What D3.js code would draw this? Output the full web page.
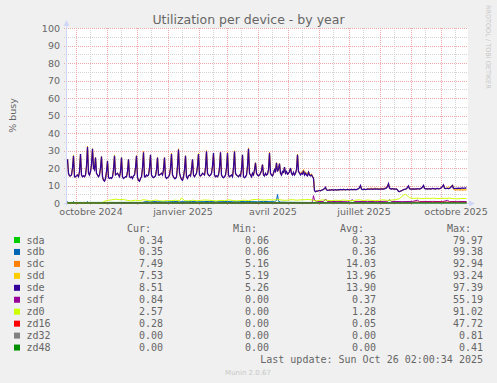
<!DOCTYPE html>
<html>
<head>
<meta charset="utf-8">
<script src="https://cdn.jsdelivr.net/npm/d3@7"></script>
<style>
body { margin: 0; background: #f0f0f0; }
svg { display: block; }
</style>
</head>
<body>
<div id="chart"></div>
<script>
// one value per day, first day starts at startDay
var startDay = Date.UTC(2024, 8, 22, 12);
var days = 400;

var sde = [
  25,17,15.5,15.5,16,20,27, 15,15,15.5,16,15,18,28, 16,15,15.5,15,16,21,32, 17,16,18,22,31,20,19,
  26,17,16,15,16,20,26.5, 15,13,12.5,14,18,24,14.5, 14,14.5,14,15,19,27,16, 16.5,17,16,15,18,26,15,
  14,14.5,15,15,18,25,15, 14.5,15,14,15.5,16,20,27, 14.5,13,12.5,14,15,20,29, 15,15,16,15.5,16,20,27.5,
  16,15,14.5,15,15.5,19,26, 16,16,16.5,17,16,19,26, 15,14,14.5,15,16,20,28, 16,15,14,14,15,21,30.5,
  17,15,13.5,13,15,19,27, 15,14,15.5,16,15.5,19,25, 16,15,16,17,21,28,16, 15.5,16,17,16.5,16,20,29.5,
  17,16,15.5,16,17,21,28.5, 16,15,15.5,15,16,20,29, 16,15,14.5,15,16,20,28.5, 16,15,15.5,16,15,20,29.5,
  17,16,15.5,15,16,15.5,19, 27.5,15,14.5,15,16,21,31, 17,16,15,17,16,19,23, 17,16,15.5,16,17,18.5,22,
  16,15.5,17,16,16.5,19,28.5, 17,16,15.5,17,19,18,23, 18,19.5,22.5,17,16,18,17.5, 20.5,17,18,16.5,17,18,20,
  17,16,17.5,16,17,19,27.5, 18,17,16,17,16.5,18.5,16, 17,16,15.5,17.5,16,15.5,16, 15,14,7,6.5,6.8,6.8,7,
  7.2,7,7.3,7.5,7.8,8.2,9, 7.5,7.2,7.3,7.5,7.4,7.6,7.5, 7.3,7.5,7.6,7.4,7.5,7.6,7.5, 7.7,7.6,7.5,7.8,7.6,7.5,7.7,
  7.8,7.6,7.5,7.7,7.8,7.6,7.7, 7.8,7.6,7.7,7.9,8.2,8.8,10, 8,7.7,7.8,7.9,7.7,7.8,8, 7.9,7.8,7.9,8,7.8,7.9,8,
  8.1,7.9,8,7.8,7.9,8.1,8, 7.9,8,8.1,8.3,8.6,9.5,11, 8.5,8.1,8,8.2,8,8.1,7.9, 8,7.5,6.6,6.5,6.8,7,7.3,
  7.6,7.8,7.9,8.2,8.9,9.8,8.2, 8,7.9,8.1,8,7.9,8.1,8, 8.2,8.1,8,8.2,8.5,9.2,10, 8.3,8.1,8.2,8,8.1,8.2,8,
  8.1,8.3,8.2,8.1,8,8.2,8.3, 8.1,8.2,8.4,8.8,9.5,10.3,8.5, 8.2,8.3,8.4,8.2,8.3,8.8,9.4, 10,8.4,8.2,8.3,8.4,8.3,8.5,
  8.4,8.3,8.5,8.6,8.4,8.5,8.6, 8.5
];

var sdc = [
  25,17,15.5,15.5,16,20,27, 15,15,15.5,16,15,18,28, 16,15,15.5,15,16,21,32.5, 17,16,18,22,31,20,19,
  26,17,16,15,16,20,26.5, 15,13,12.5,14,18,24,14.5, 14,14.5,14,15,19,27,16, 16.5,17,16,15,18,26,15,
  14,14.5,15,15,18,25,15, 14.5,15,14,15.5,16,20,27, 14.5,13,12.5,14,15,20,29.5, 15,15,16,15.5,16,20,27.5,
  16,15,14.5,15,15.5,19,26, 16,16,16.5,17,16,19,26, 15,14,14.5,15,16,20,28.5, 16,15,14,14,15,21,31,
  17,15,13.5,13,15,19,27, 15,14,15.5,16,15.5,19,25, 16,15,16,17,21,28,16, 15.5,16,17,16.5,16,20,30,
  17,16,15.5,16,17,21,28.5, 16,15,15.5,15,16,20,29, 16,15,14.5,15,16,20,29, 16,15,15.5,16,15,20,29.5,
  17,16,15.5,15,16,15.5,19, 27.5,15,14.5,15,16,21,31.5, 17,16,15,17,16,19,23, 17,16,15.5,16,17,18.5,22,
  16,15.5,17,16,16.5,19,29, 17,16,15.5,17,19,18,23, 18,19.5,22.5,17,16,18,17.5, 20.5,17,18,16.5,17,18,20,
  17,16,17.5,16,17,19,28, 18.5,17.5,16.8,17.8,17.2,19,16.8, 17.8,16.8,16.2,18,16.8,16.2,16.6, 15.5,14,7,6.5,6.8,6.8,7,
  7.2,7,7.3,7.5,7.8,8.2,9, 7.5,7.2,7.3,7.5,7.4,7.6,7.5, 7.3,7.5,7.6,7.4,7.5,7.6,7.5, 7.7,7.6,7.5,7.8,7.6,7.5,7.7,
  7.8,7.6,7.5,7.7,7.8,7.6,7.7, 7.8,7.6,7.7,7.9,8.2,8.8,10, 8,7.7,7.8,7.9,7.7,7.8,8, 8.3,8.2,8.4,8.5,8.2,8.3,8.4,
  8.5,8.3,8.4,8.2,8.3,8.5,8.4, 8.3,8.4,8.5,8.7,9,9.8,11, 8.5,8.1,8,8.2,8,8.1,7.9, 8,7.5,6.6,6.5,6.8,7,7.3,
  7.6,7.8,7.9,8.2,8.9,9.8,8.2, 8,7.9,8.1,8,7.9,8.1,8, 8.2,8.1,8,8.2,8.5,9.2,10, 8.3,8.1,8.2,8,8.1,8.2,8,
  8.1,8.3,8.2,8.1,8,8.2,8.3, 8.1,8.2,8.4,8.8,9.5,10.3,8.5, 8.2,8.3,8.4,8.2,8.3,8.8,9.4, 10,8,7.4,7.3,7.5,7.4,7.5,
  7.3,7.4,7.5,7.3,7.4,7.5,7.4, 7.49
];

var sdd = [
  25,17,15.5,15.5,16,20,27.5, 15,15,15.5,16,15,18,28, 16,15,15.5,15,16,21,32, 17,16,18,22,31,20,19,
  26,17,16,15,16,20,26.5, 15,13,12.5,14,18,24,14.5, 14,14.5,14,15,19,27.5,16, 16.5,17,16,15,18,26,15,
  14,14.5,15,15,18,25,15, 14.5,15,14,15.5,16,20,27, 14.5,13,12.5,14,15,20,29, 15,15,16,15.5,16,20,27.5,
  16,15,14.5,15,15.5,19,26, 16,16,16.5,17,16,19,26, 15,14,14.5,15,16,20,28, 16,15,14,14,15,21,30.5,
  17,15,13.5,13,15,19,27, 15,14,15.5,16,15.5,19,25, 16,15,16,17,21,28.5,16, 15.5,16,17,16.5,16,20,29.5,
  17,16,15.5,16,17,21,28.5, 16,15,15.5,15,16,20,29, 16,15,14.5,15,16,20,28.5, 16,15,15.5,16,15,20,30,
  17,16,15.5,15,16,15.5,19, 27.5,15,14.5,15,16,21,31, 17,16,15,17,16,19,23, 17,16,15.5,16,17,18.5,22,
  16,15.5,17,16,16.5,19,28.5, 17,16,15.5,17,19,18,23, 18,19.5,22.5,17,16,18,17.5, 20.5,17,18,16.5,17,18,20,
  17,16,17.5,16,17,19,27.5, 18.3,17.3,16.5,17.4,17,19,16.5, 17.4,16.5,16,17.8,16.5,16,16.3, 15.2,14,7,6.5,6.8,6.8,7,
  7.2,7,7.3,7.5,7.8,8.2,9, 7.5,7.2,7.3,7.5,7.4,7.6,7.5, 7.3,7.5,7.6,7.4,7.5,7.6,7.5, 7.7,7.6,7.5,7.8,7.6,7.5,7.7,
  7.8,7.6,7.5,7.7,7.8,7.6,7.7, 7.8,7.6,7.7,7.9,8.2,8.8,10, 8,7.7,7.8,7.9,7.7,7.8,8, 7.9,7.8,7.9,8,7.8,7.9,8,
  8.1,7.9,8,7.8,7.9,8.1,8, 7.9,8,8.1,8.3,8.6,9.5,11, 8.5,8.1,8,8.2,8,8.1,7.9, 8,7.5,6.6,6.5,6.8,7,7.3,
  7.6,7.8,7.9,8.2,8.9,9.8,8.2, 8,7.9,8.1,8,7.9,8.1,8, 8.2,8.1,8,8.2,8.5,9.2,10, 8.3,8.1,8.2,8,8.1,8.2,8,
  8.1,8.3,8.2,8.1,8,8.2,8.3, 8.1,8.2,8.4,8.8,9.5,10.3,8.5, 8.2,8.3,9,9.1,9,9.4,9.8, 10.3,9,7.8,7.7,7.8,7.9,7.8,
  7.7,7.8,7.9,7.7,7.8,7.9,7.7, 7.53
];

// the small ones, as [day, value]
var sda = [[0,0.3],[60,0.35],[120,0.3],[200,0.32],[300,0.3],[399,0.34]];
var sdb = [[0,0.9],[1,0.3],[5,0.3],[6,0.8],[7,0.3],[19,0.3],[20,0.8],[21,0.3],[75,0.3],[78,0.8],[82,0.6],
  [86,0.9],[90,0.7],[94,0.8],[100,0.6],[106,0.9],[112,0.7],[118,0.8],[124,0.9],[130,0.7],[136,0.8],[142,0.9],
  [148,0.7],[154,0.8],[160,0.9],[166,0.7],[172,0.8],[178,0.9],[184,0.8],[190,0.7],[196,0.9],[202,0.8],
  [207,0.7],[209,1.5],[210,4.8],[211,1],[213,0.5],[220,0.4],[240,0.3],[399,0.35]];
var sdf = [[0,0],[244,0],[245,1],[246,4.2],[247,1.5],[250,0.8],[256,0.9],[258,2.3],[260,0.8],[270,0.9],
  [280,0.7],[285,1.8],[287,0.8],[300,0.9],[310,0.8],[320,1],[322,1.8],[324,0.9],[335,0.8],[345,0.9],
  [350,1.6],[352,0.8],[365,0.9],[375,0.8],[380,1.5],[382,0.8],[390,0.9],[399,0.84]];
var zd0 = [[0,0],[35,0],[36,0.8],[40,1.5],[44,1.8],[48,2.2],[52,1.9],[56,2],[60,1.5],[64,1.2],[68,1.6],
  [72,1.3],[76,1.9],[80,1.5],[84,1.2],[88,1.7],[92,1.3],[96,1.1],[100,1.5],[104,1.3],[108,1.6],[112,1.2],
  [114,2.9],[117,1.4],[121,1.2],[125,1.6],[129,1.3],[133,1.5],[137,1.7],[141,1.6],[145,1.4],[149,1.2],
  [153,1.5],[157,1.3],[161,1.8],[165,1.5],[169,1.2],[173,1.4],[177,1.6],[181,1.3],[185,1.9],[189,2],
  [193,1.8],[197,1.6],[201,1.9],[205,1.7],[209,1.9],[213,1.8],[217,1.5],[221,1.7],[225,1.9],[229,1.6],
  [233,1.8],[237,1.9],[241,2],[245,1.7],[248,1.2],[252,1.5],[256,1.8],[260,1.5],[264,1.3],[268,1.6],
  [272,1.4],[276,1.7],[280,1.5],[284,1.3],[288,1.6],[292,1.8],[296,1.4],[300,1.7],[304,1.5],[308,1.3],
  [312,1.6],[316,1.8],[320,1.5],[324,1.7],[328,1.9],[332,2.5],[336,4.5],[338,5],[340,4],[342,3],
  [346,2.6],[350,2.8],[354,2.5],[358,2.7],[362,2.6],[366,2.8],[370,2.5],[374,2.7],[378,2.6],[382,2.8],
  [386,2.5],[390,2.4],[394,2.6],[399,2.57]];
var zd16 = [[0,0],[344,0],[346,0.5],[360,0.4],[380,0.5],[399,0.28]];
var zd32 = [[0,0],[399,0]];
var zd48 = [[0,0],[399,0]];

var names  = ["sda", "sdb", "sdc", "sdd", "sde", "sdf", "zd0", "zd16", "zd32", "zd48"];
var colors = ["#00CC00", "#0066B3", "#FF8000", "#FFCC00", "#330099", "#990099", "#CCFF00", "#FF0000", "#808080", "#008F00"];
var curV = [0.34, 0.35, 7.49, 7.53, 8.51, 0.84, 2.57, 0.28, 0.00, 0.00];
var minV = [0.06, 0.06, 5.16, 5.19, 5.26, 0.00, 0.00, 0.00, 0.00, 0.00];
var avgV = [0.33, 0.36, 14.03, 13.96, 13.90, 0.37, 1.28, 0.05, 0.00, 0.00];
var maxV = [79.97, 99.38, 92.94, 93.24, 97.39, 55.19, 91.02, 47.72, 0.81, 0.41];

var yTicks = [0, 10, 20, 30, 40, 50, 60, 70, 80, 90, 100];
var frMonths = ["janvier", "février", "mars", "avril", "mai", "juin", "juillet", "août", "septembre", "octobre", "novembre", "décembre"];
var labelMonths = [[2024, 9], [2025, 0], [2025, 3], [2025, 6], [2025, 9]];

var W = 497, H = 383;
var pl = 67, pr = 467, pt = 28, pb = 203;
var font = "'DejaVu Sans', sans-serif", mono = "'DejaVu Sans Mono', monospace";

var svg = d3.select("#chart").append("svg").attr("width", W).attr("height", H);
svg.append("rect").attr("width", W).attr("height", H).attr("fill", "#f0f0f0");
svg.append("rect").attr("x", pl).attr("y", pt).attr("width", pr - pl + 1).attr("height", pb - pt).attr("fill", "#fff");

var x = d3.scaleUtc().domain([new Date(startDay), new Date(startDay + days * 864e5)]).range([pl, pr]);
var y = d3.scaleLinear().domain([0, 100]).range([pb, pt]);
function dayDate(i) { return new Date(startDay + (i + 0.5) * 864e5); }
function px(v) { return Math.round(v) + 0.5; }

// grid
var grid = svg.append("g").attr("stroke-dasharray", "1,1").attr("stroke-width", 1);
d3.range(5, 100, 10).forEach(function(v) {
  grid.append("line").attr("x1", 64).attr("x2", pr + 1).attr("y1", px(y(v))).attr("y2", px(y(v))).attr("stroke", "#d4d4d4");
});
var months = d3.utcMonth.range(x.domain()[0], x.domain()[1]);
months.forEach(function(m) {
  var d = d3.utcDay.offset(m, 14);
  if (d < x.domain()[1]) grid.append("line").attr("x1", px(x(d))).attr("x2", px(x(d))).attr("y1", pt).attr("y2", pb + 3).attr("stroke", "#d4d4d4");
});
yTicks.slice(1).forEach(function(v) {
  grid.append("line").attr("x1", 64).attr("x2", pr + 1).attr("y1", px(y(v))).attr("y2", px(y(v))).attr("stroke", "#eaa8a8");
});
months.forEach(function(m) {
  grid.append("line").attr("x1", px(x(m))).attr("x2", px(x(m))).attr("y1", pt).attr("y2", pb + 3).attr("stroke", "#eaa8a8");
});

// axes lines with arrows
var axisCol = "#cfd6f8";
svg.append("line").attr("x1", 66.5).attr("x2", 66.5).attr("y1", 25).attr("y2", pb + 3).attr("stroke", axisCol);
svg.append("path").attr("d", "M63.5,26 L66.5,20 L69.5,26 Z").attr("fill", axisCol);
svg.append("line").attr("x1", 64).attr("x2", 470).attr("y1", 203.5).attr("y2", 203.5).attr("stroke", axisCol);
svg.append("path").attr("d", "M469,200.5 L475,203.5 L469,206.5 Z").attr("fill", axisCol);

// series
var daily = { sdc: sdc, sdd: sdd, sde: sde };
var sparse = { sda: sda, sdb: sdb, sdf: sdf, zd0: zd0, zd16: zd16, zd32: zd32, zd48: zd48 };
var lineDaily = d3.line().x(function(d, i) { return x(dayDate(i)); }).y(function(d) { return y(d); });
var lineSparse = d3.line().x(function(d) { return x(dayDate(d[0])); }).y(function(d) { return y(d[1]); });
names.forEach(function(n, k) {
  var p = svg.append("path").attr("fill", "none").attr("stroke", colors[k])
    .attr("stroke-width", n == "sde" ? 1.3 : 1);
  if (daily[n]) p.attr("d", lineDaily(daily[n]));
  else p.attr("d", lineSparse(sparse[n]));
});

// tick labels
var yAxis = svg.append("g").attr("transform", "translate(" + pl + ",0)")
  .call(d3.axisLeft(y).tickValues(yTicks).tickSize(0).tickPadding(7));
yAxis.select(".domain").remove();
yAxis.selectAll("text").attr("font-family", font).attr("font-size", 9.5).attr("fill", "#666").attr("dy", "0.34em");

var labelDates = labelMonths.map(function(d) { return new Date(Date.UTC(d[0], d[1], 16)); });
var xAxis = svg.append("g").attr("transform", "translate(0," + pb + ")")
  .call(d3.axisBottom(x).tickValues(labelDates).tickSize(0)
    .tickFormat(function(d) { return frMonths[d.getUTCMonth()] + " " + d.getUTCFullYear(); }));
xAxis.select(".domain").remove();
xAxis.selectAll("text").attr("font-family", font).attr("font-size", 9.5).attr("fill", "#666").attr("y", 11.5).attr("dy", 0);

// titles
svg.append("text").attr("x", 248.5).attr("y", 24).attr("text-anchor", "middle")
  .attr("font-family", font).attr("font-size", 12.5).attr("fill", "#666").text("Utilization per device - by year");
svg.append("text").attr("transform", "translate(16," + ((pt + pb) / 2) + ") rotate(-90)").attr("text-anchor", "middle")
  .attr("font-family", font).attr("font-size", 9.5).attr("fill", "#666").text("% busy");
svg.append("text").attr("transform", "translate(485.5,5) rotate(90)").attr("text-anchor", "start")
  .attr("font-family", font).attr("font-size", 6.5).attr("fill", "#c8c8c8").text("RRDTOOL / TOBI OETIKER");

// legend
var lg = svg.append("g").attr("font-family", mono).attr("font-size", 10).attr("fill", "#666");
var colEnds = [163, 269, 376, 483];
["Cur:", "Min:", "Avg:", "Max:"].forEach(function(h, j) {
  lg.append("text").attr("x", colEnds[j] - 12).attr("y", 231.5).attr("text-anchor", "end").text(h);
});
names.forEach(function(n, k) {
  var by = 243.5 + k * 11.95;
  lg.append("rect").attr("x", 14).attr("y", by - 6.5).attr("width", 6).attr("height", 6).attr("fill", colors[k]);
  lg.append("text").attr("x", 26.5).attr("y", by).text(n);
  [curV, minV, avgV, maxV].forEach(function(arr, j) {
    lg.append("text").attr("x", colEnds[j]).attr("y", by).attr("text-anchor", "end").text(arr[k].toFixed(2));
  });
});
lg.append("text").attr("x", 483).attr("y", 363).attr("text-anchor", "end").text("Last update: Sun Oct 26 02:00:34 2025");
svg.append("text").attr("x", 248).attr("y", 375).attr("text-anchor", "middle")
  .attr("font-family", font).attr("font-size", 7).attr("fill", "#c8c8c8").text("Munin 2.0.67");
</script>
</body>
</html>
